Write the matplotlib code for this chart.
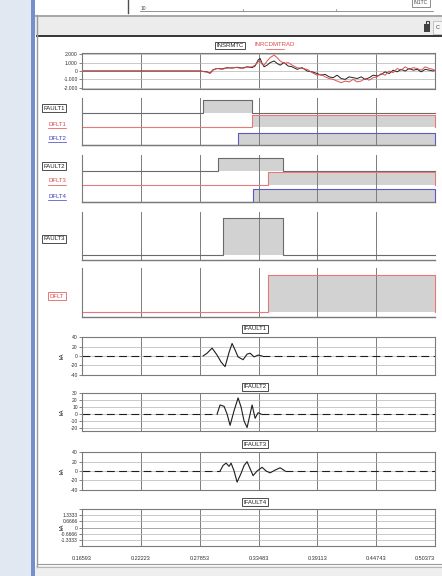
import numpy as np
import matplotlib.pyplot as plt
from matplotlib.patches import Rectangle

plt.rcParams['font.family'] = ['Liberation Sans', 'DejaVu Sans']

W, H = 442, 576

# time axis (s)
x_ticks = [0.16593, 0.22223, 0.27853, 0.33483, 0.39113, 0.44743, 0.50373]
x_labels = ['0.16593', '0.22223', '0.27853', '0.33483', '0.39113', '0.44743', '0.50373']

# measured vs. computed quantity (top graph)
wave_t = [0.16593, 0.18317, 0.20232, 0.22147, 0.24062, 0.25977, 0.27892, 0.28562,
          0.28849, 0.29136, 0.29519, 0.29998, 0.30477, 0.30956, 0.31434, 0.31913,
          0.32392, 0.32871, 0.33158, 0.33445, 0.33637, 0.33828, 0.34020, 0.34307,
          0.34594, 0.34977, 0.35264, 0.35552, 0.35935, 0.36318, 0.36701, 0.37179,
          0.37658, 0.38137, 0.38616, 0.39094, 0.39477, 0.39860, 0.40243, 0.40626,
          0.41009, 0.41392, 0.41775, 0.42158, 0.42541, 0.42924, 0.43307, 0.43690,
          0.44073, 0.44456, 0.44839, 0.45222, 0.45605, 0.45988, 0.46371, 0.46754,
          0.47137, 0.47520, 0.47903, 0.48286, 0.48669, 0.49052, 0.49435, 0.49818,
          0.50201, 0.50373]
insrmtc = [0, 0, 0, 0, 0, 0, 0, -100,
           -250, 150, 300, 250, 400, 350, 450, 350,
           500, 400, 600, 1300, 1500, 900, 500, 700,
           1000, 1200, 900, 700, 1000, 600, 500, 200,
           400, 0, -100, -300, -500, -400, -700, -800,
           -500, -900, -1000, -700, -800, -900, -700, -1000,
           -800, -500, -600, -400, -100, -300, 100, -100,
           200, 0, 300, 100, 200, -100, 200, 100,
           0, 100]
inrcdmtrad = [0, 0, 0, 0, 0, 0, 0, -150,
              -300, 100, 300, 200, 350, 400, 400, 300,
              450, 500, 700, 1100, 1200, 800, 700, 1200,
              1600, 1900, 1600, 1200, 900, 1000, 700, 400,
              300, 200, -200, -500, -400, -700, -900, -1000,
              -1200, -1400, -1200, -1300, -1000, -1300, -1200, -900,
              -1100, -800, -700, -300, -500, 0, -200, 300,
              100, 500, 200, 400, 300, 100, 500, 300,
              200, 0]

# fault / trip signals: (on, off); off=None stays on
fault1 = (0.2818, 0.3287)
dflt1 = (0.3287, None)
dflt2 = (0.3153, None)
fault2 = (0.2962, 0.3584)
dflt3 = (0.3440, None)
dflt4 = (0.3297, None)
fault3 = (0.3009, 0.3584)
dflt = (0.3440, None)

# fault currents (kA)
if1_t = [0.16593, 0.28179, 0.28562, 0.29041, 0.29519, 0.29902, 0.30285, 0.30668,
         0.30956, 0.31243, 0.31530, 0.32009, 0.32392, 0.32679, 0.33062, 0.33445,
         0.33828, 0.50373]
if1 = [0, 0, 6, 17, 2, -13, -23, 8,
       27, 13, -2, -8, 4, 6, -2, 2,
       0, 0]

if2_t = [0.16593, 0.29519, 0.29807, 0.30190, 0.30477, 0.30764, 0.31147, 0.31530,
         0.31817, 0.32105, 0.32392, 0.32679, 0.32871, 0.33158, 0.33445, 0.33733,
         0.50373]
if2 = [0, 0, 13, 11, 0, -16, 5, 23,
       10, -10, -19, 0, 13, -6, 2, 0,
       0]

if3_t = [0.16593, 0.29807, 0.30094, 0.30381, 0.30668, 0.30860, 0.31147, 0.31434,
         0.31817, 0.32105, 0.32392, 0.32679, 0.32966, 0.33349, 0.33828, 0.34211,
         0.34594, 0.35073, 0.35552, 0.36030, 0.50373]
if3 = [0, 0, 12, 17, 10, 17, 0, -24,
       -5, 12, 20, 5, -10, 0, 8, 0,
       -4, 2, 7, 0, 0]

if4_t = [0.16593, 0.50373]
if4 = [0, 0]

fig = plt.figure(figsize=(W / 100, H / 100), dpi=100)

# window chrome drawn in pixel units
bg = fig.add_axes([0, 0, 1, 1])
bg.set_xlim(0, W)
bg.set_ylim(H, 0)
bg.axis('off')
bg.add_patch(Rectangle((0, 0), 32, H, color='#e2e8f1', lw=0))
bg.add_patch(Rectangle((31, 0), 4, H, color='#7390cc', lw=0))
bg.add_patch(Rectangle((35, 0), W - 35, 15, color='white', lw=0))
bg.plot([128, 128], [0, 13], color='#505050', lw=1)
bg.plot([140, 433], [10.5, 10.5], color='#808080', lw=0.6)
for xt in [243, 336]:
    bg.plot([xt, xt], [8.5, 10.5], color='#808080', lw=0.5)
bg.text(141, 9, '10', fontsize=3.5, color='#404040', ha='left', va='center')
bg.text(421, 3, 'IN1TC', fontsize=3.5, color='#404040', ha='center', va='center',
        bbox=dict(boxstyle='square,pad=0.3', fc='white', ec='#606060', lw=0.5))
bg.add_patch(Rectangle((35, 15), W - 35, 2, color='#a8a8a8', lw=0))
bg.add_patch(Rectangle((35, 17), W - 35, 18, color='#ececec', lw=0))
bg.add_patch(Rectangle((424, 24), 6, 8, color='#404040', lw=0))
bg.add_patch(Rectangle((425.5, 21), 3, 4, fill=False, ec='#404040', lw=0.8))
bg.add_patch(Rectangle((433, 21), 9, 13, fc='#f6f6f6', ec='#b0b0b0', lw=0.5))
bg.text(438, 27.5, 'C', fontsize=4, color='#404040', ha='center', va='center')
bg.add_patch(Rectangle((36, 35), W - 36, 1.5, color='#3a3a3a', lw=0))
bg.add_patch(Rectangle((38, 36.5), W - 38, 526, color='white', lw=0))
bg.plot([37, 37], [15, 567], color='#9a9a9a', lw=1)
bg.plot([37, W], [563.5, 563.5], color='#9a9a9a', lw=0.8)
bg.add_patch(Rectangle((35, 566), W - 35, 10, color='#efefef', lw=0))
bg.plot([37, W], [566.5, 566.5], color='#b8b8b8', lw=0.8)


def px_axes(x0, y0, x1, y1):
    return fig.add_axes([x0 / W, 1 - y1 / H, (x1 - x0) / W, (y1 - y0) / H])


def label_box(x, y, s, color='#202020', ec='#303030'):
    fig.text(x / W, 1 - y / H, s, fontsize=4.3, color=color, ha='center', va='center',
             bbox=dict(boxstyle='square,pad=0.25', fc='white', ec=ec, lw=0.6))


def label_line(x, y, s, color):
    t = fig.text(x / W, 1 - y / H, s, fontsize=4.3, color=color, ha='center', va='center')
    bg.plot([x - 9, x + 9], [y + 3.5, y + 3.5], color=color, lw=0.5)
    return t


def style_analog(ax, yticks, ylabels, ylim):
    ax.set_xlim(x_ticks[0], x_ticks[-1])
    ax.set_ylim(*ylim)
    ax.set_xticks(x_ticks)
    ax.tick_params(axis='x', length=0, labelbottom=False)
    ax.set_yticks(yticks)
    ax.set_yticklabels(ylabels)
    ax.tick_params(axis='y', length=2, width=0.5, labelsize=3.6, pad=1,
                   color='#505050', labelcolor='#303030')
    ax.grid(True, axis='y', color='#b4b4b4', lw=0.5)
    ax.grid(True, axis='x', color='#7c7c7c', lw=0.7)
    for sp in ax.spines.values():
        sp.set_color('#7a7a7a')
        sp.set_linewidth(0.8)


def style_digital(ax):
    ax.set_xlim(x_ticks[0], x_ticks[-1])
    ax.set_ylim(0, 1)
    ax.set_xticks(x_ticks)
    ax.tick_params(axis='x', length=0, labelbottom=False)
    ax.set_yticks([])
    ax.grid(True, axis='x', color='#7c7c7c', lw=0.7)
    ax.spines['top'].set_visible(False)
    ax.spines['right'].set_visible(False)
    ax.spines['left'].set_color('#7a7a7a')
    ax.spines['bottom'].set_color('#7a7a7a')
    ax.spines['bottom'].set_linewidth(1.0)


def draw_row(ax, sig, base, height, edge):
    on, off = sig
    if off is None:
        off = x_ticks[-1]
    tt = [x_ticks[0], on, on, off, off, x_ticks[-1]]
    lv = np.array([0, 0, 1, 1, 0, 0]) * height + base
    ax.fill_between(tt, base, lv, color='#d2d2d2', lw=0)
    ax.plot(tt, lv, color=edge, lw=0.8, clip_on=False)


GRAY_E, RED_E, BLUE_E = '#6a6a6a', '#e67a7a', '#5a5ac6'

# top graph
ax = px_axes(82, 53, 435, 89)
style_analog(ax, [2000, 1000, 0, -1000, -2000],
             ['2.000', '1.000', '0', '-1.000', '-2.000'], (-2150, 2150))
ax.plot(wave_t, insrmtc, color='#222222', lw=0.7)
ax.plot(wave_t, inrcdmtrad, color='#e05050', lw=0.7)
label_box(230, 45.5, 'INSRMTC')
label_line(275, 45, 'INRCDMTRAD', '#e04848')

# digital graph 1
ax = px_axes(82, 98, 435, 145)
style_digital(ax)
draw_row(ax, fault1, 0.68, 0.27, GRAY_E)
draw_row(ax, dflt1, 0.385, 0.26, RED_E)
draw_row(ax, dflt2, 0.01, 0.25, BLUE_E)
label_box(54, 108, 'FAULT1')
label_line(57, 124, 'DFLT1', '#e04848')
label_line(57, 138, 'DFLT2', '#3c3cc8')

# digital graph 2
ax = px_axes(82, 155, 435, 202)
style_digital(ax)
draw_row(ax, fault2, 0.66, 0.28, GRAY_E)
draw_row(ax, dflt3, 0.36, 0.28, RED_E)
draw_row(ax, dflt4, 0.01, 0.27, BLUE_E)
label_box(54, 166, 'FAULT2')
label_line(57, 181, 'DFLT3', '#e04848')
label_line(57, 196, 'DFLT4', '#3c3cc8')

# fault 3
ax = px_axes(82, 212, 435, 260)
style_digital(ax)
draw_row(ax, fault3, 0.10, 0.77, GRAY_E)
label_box(54, 239, 'FAULT3')

# trip signal
ax = px_axes(82, 268, 435, 317)
style_digital(ax)
draw_row(ax, dflt, 0.10, 0.76, RED_E)
label_box(57, 296, 'DFLT', color='#e04848', ec='#e06060')


def current_plot(ax, tt, yy, split):
    a, b = split
    ax.plot(tt[:a + 1], yy[:a + 1], color='#1e1e1e', lw=0.8, ls=(0, (7, 4)))
    ax.plot(tt[a:b + 1], yy[a:b + 1], color='#1e1e1e', lw=0.8)
    ax.plot(tt[b:], yy[b:], color='#1e1e1e', lw=0.8, ls=(0, (7, 4)))


# IFAULT1
ax = px_axes(82, 337, 435, 375)
style_analog(ax, [40, 20, 0, -20, -40], ['40', '20', '0', '-20', '-40'], (-41, 41))
current_plot(ax, if1_t, if1, (1, len(if1_t) - 2))
label_box(255, 329, 'IFAULT1')
fig.text(62 / W, 1 - 356 / H, 'kA', fontsize=4, rotation=90, ha='center', va='center')

# IFAULT2
ax = px_axes(82, 393, 435, 431)
style_analog(ax, [30, 20, 10, 0, -10, -20],
             ['30', '20', '10', '0', '-10', '-20'], (-24, 30))
current_plot(ax, if2_t, if2, (1, len(if2_t) - 2))
label_box(255, 387, 'IFAULT2')
fig.text(62 / W, 1 - 412 / H, 'kA', fontsize=4, rotation=90, ha='center', va='center')

# IFAULT3
ax = px_axes(82, 452, 435, 490)
style_analog(ax, [40, 20, 0, -20, -40], ['40', '20', '0', '-20', '-40'], (-41, 41))
current_plot(ax, if3_t, if3, (1, len(if3_t) - 2))
label_box(255, 444, 'IFAULT3')
fig.text(62 / W, 1 - 471 / H, 'kA', fontsize=4, rotation=90, ha='center', va='center')

# IFAULT4
ax = px_axes(82, 509, 435, 546)
style_analog(ax, [2, 1.3333, 0.6667, 0, -0.6667, -1.3333, -2],
             ['', '1.3333', '0.6666', '0', '-0.6666', '-1.3333', ''], (-2, 2))
ax.plot(if4_t, if4, color='#9a9a9a', lw=0.5)
ax.tick_params(axis='x', labelbottom=True, labelsize=4, pad=7, labelcolor='#303030')
ax.set_xticklabels(x_labels)
ax.get_xticklabels()[-1].set_horizontalalignment('right')
label_box(255, 502, 'IFAULT4')
fig.text(62 / W, 1 - 527 / H, 'kA', fontsize=4, rotation=90, ha='center', va='center')

fig.savefig('out.png', dpi=100)
